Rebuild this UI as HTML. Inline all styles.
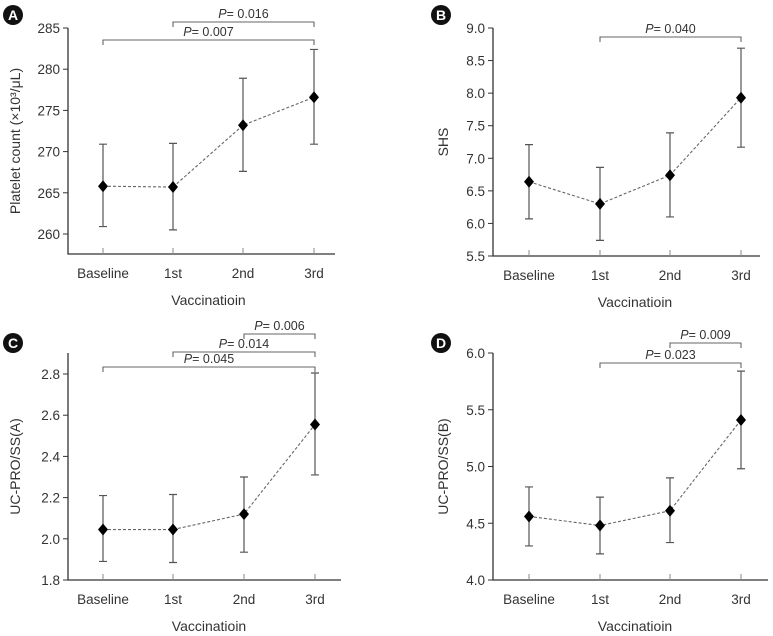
<!DOCTYPE html>
<html><head><meta charset="utf-8"><style>
html,body{margin:0;padding:0;background:#fff;}
svg{display:block;font-family:"Liberation Sans",sans-serif;}
</style></head><body>
<svg id="fig" width="773" height="636" viewBox="0 0 773 636"></svg>
<script>
const categories = ["Baseline","1st","2nd","3rd"];
const meanA = [265.8,265.7,273.2,276.6];
const lowA = [260.9,260.5,267.6,270.9];
const highA = [270.9,271.0,278.9,282.4];
const ticksA = [260,265,270,275,280,285];
const meanB = [6.64,6.30,6.74,7.93];
const lowB = [6.07,5.74,6.10,7.17];
const highB = [7.21,6.86,7.39,8.69];
const ticksB = ["5.5","6.0","6.5","7.0","7.5","8.0","8.5","9.0"];
const meanC = [2.045,2.045,2.12,2.555];
const lowC = [1.89,1.885,1.935,2.31];
const highC = [2.21,2.215,2.30,2.805];
const ticksC = ["1.8","2.0","2.2","2.4","2.6","2.8"];
const meanD = [4.56,4.48,4.61,5.41];
const lowD = [4.30,4.23,4.33,4.98];
const highD = [4.82,4.73,4.90,5.84];
const ticksD = ["4.0","4.5","5.0","5.5","6.0"];
const bracketsA = [{from:0,to:3,label:"0.007"},{from:1,to:3,label:"0.016"}];
const bracketsB = [{from:1,to:3,label:"0.040"}];
const bracketsC = [{from:0,to:3,label:"0.045"},{from:1,to:3,label:"0.014"},{from:2,to:3,label:"0.006"}];
const bracketsD = [{from:1,to:3,label:"0.023"},{from:2,to:3,label:"0.009"}];

const NS="http://www.w3.org/2000/svg";
const svg=document.getElementById('fig');
function mk(tag,attrs,parent,text){const e=document.createElementNS(NS,tag);for(const k in attrs)e.setAttribute(k,attrs[k]);if(text!==undefined)e.textContent=text;(parent||svg).appendChild(e);return e;}

const panels=[
 {id:'a',badge:'A',bx:13,by:15,left:68,right:335,top:28,bottom:254,vTop:285,pTop:28,vBot:260,pBot:234,ticks:ticksA,mean:meanA,lo:lowA,hi:highA,ylabel:"Platelet count (\u00d710\u00b3/\u03bcL)",ylx:15,brackets:bracketsA,brY:[40,22],xs:[103,173,243,314],tickDec:0},
 {id:'b',badge:'B',bx:441,by:15,left:493,right:760,top:28,bottom:256,vTop:9.0,pTop:28,vBot:5.5,pBot:256,ticks:ticksB,mean:meanB,lo:lowB,hi:highB,ylabel:"SHS",ylx:443,brackets:bracketsB,brY:[37],xs:[529,600,670,741]},
 {id:'c',badge:'C',bx:13,by:343,left:68,right:341,top:353,bottom:580,vTop:2.8,pTop:374,vBot:1.8,pBot:580,ticks:ticksC,mean:meanC,lo:lowC,hi:highC,ylabel:"UC-PRO/SS(A)",ylx:15,brackets:bracketsC,brY:[367,352,334],xs:[103,173,244,315]},
 {id:'d',badge:'D',bx:441,by:343,left:493,right:768,top:353,bottom:580,vTop:6.0,pTop:353,vBot:4.0,pBot:580,ticks:ticksD,mean:meanD,lo:lowD,hi:highD,ylabel:"UC-PRO/SS(B)",ylx:443,brackets:bracketsD,brY:[363,343],xs:[529,600,670,741]}
];

panels.forEach(p=>{
 const g=mk('g',{});
 
 
 const y=v=>p.pBot+(v-p.vBot)*(p.pTop-p.pBot)/(p.vTop-p.vBot);
 const x=i=>p.xs[i];
 const bd=mk('circle',{cx:p.bx,cy:p.by,r:10,fill:'#111'},g);
 
 
 mk('text',{x:p.bx,y:p.by+5,'text-anchor':'middle','font-size':14,'font-weight':'bold',fill:'#fff'},g,p.badge);
 const ax=mk('path',{d:`M${p.left} ${p.top}V${p.bottom}H${p.right}`,stroke:'#333','stroke-width':1.3,fill:'none'},g);
 
 
 p.ticks.forEach(t=>{
  const yy=y(parseFloat(t));
  mk('line',{x1:p.left-5,x2:p.left,y1:yy,y2:yy,stroke:'#333','stroke-width':1},g);
  const tl=mk('text',{x:p.left-8,y:yy+5,'text-anchor':'end','font-size':13.5,fill:'#333'},g,String(t));
  
  
 });
 categories.forEach((c,i)=>{
  mk('line',{x1:x(i),x2:x(i),y1:p.bottom-6,y2:p.bottom,stroke:'#888','stroke-width':1},g);
  const tl=mk('text',{x:x(i),y:p.bottom+24,'text-anchor':'middle','font-size':13.5,fill:'#333'},g,c);
  
  
 });
 const xt=mk('text',{x:(p.xs[0]+p.xs[3])/2,y:p.bottom+51,'text-anchor':'middle','font-size':14,fill:'#333'},g,'Vaccinatioin');
 
 
 const cy=(p.top+p.bottom)/2;
 const yt=mk('text',{x:p.ylx,y:cy,'text-anchor':'middle','font-size':14,fill:'#333',transform:`rotate(-90 ${p.ylx} ${cy}) translate(0 5)`},g,p.ylabel);
 
 
 // error bars
 p.mean.forEach((m,i)=>{
  const eb=mk('path',{d:`M${x(i)} ${y(p.lo[i])}V${y(p.hi[i])}M${x(i)-4} ${y(p.lo[i])}h8M${x(i)-4} ${y(p.hi[i])}h8`,stroke:'#555','stroke-width':1.2,fill:'none'},g);
  
  
 });
 const pts=p.mean.map((m,i)=>x(i)+','+y(m)).join(' ');
 const ln=mk('polyline',{points:pts,fill:'none',stroke:'#666','stroke-width':1.1,'stroke-dasharray':'3 2'},g);
 
 
 p.mean.forEach((m,i)=>{
  const xx=x(i),yy=y(m);
  const pt=mk('path',{d:`M${xx} ${yy-6}L${xx+5} ${yy}L${xx} ${yy+6}L${xx-5} ${yy}Z`,fill:'#000'},g);
  
  
 });
 p.brackets.forEach((b,k)=>{
  const by=p.brY[k];
  const br=mk('path',{d:`M${x(b.from)} ${by+5}V${by}H${x(b.to)}V${by+5}`,stroke:'#666','stroke-width':1.1,fill:'none'},g);
  
  
  const cx=(x(b.from)+x(b.to))/2;
  const t=mk('text',{x:cx,y:by-4,'text-anchor':'middle','font-size':12.5,fill:'#333'},g);
  
  
  mk('tspan',{'font-style':'italic'},t,'P');
  mk('tspan',{},t,'= '+b.label);
 });
});
</script>
</body></html>
